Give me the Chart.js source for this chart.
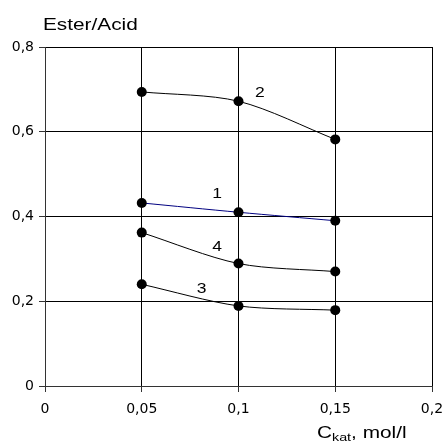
<!DOCTYPE html>
<html>
<head>
<meta charset="utf-8">
<script src="https://cdn.jsdelivr.net/npm/chart.js@4/dist/chart.umd.min.js"></script>
<style>
  html, body { margin: 0; padding: 0; background: #fff; }
  #wrap { width: 444px; height: 442px; }
</style>
</head>
<body>
<div id="wrap"><canvas id="esterChart" width="444" height="442"></canvas></div>
<script>
// catalyst concentration, mol/l
const cKat = [0.05, 0.1, 0.15];

// ester/acid ratio per curve
const curve1 = [0.432, 0.410, 0.390];
const curve2 = [0.694, 0.672, 0.582];
const curve3 = [0.240, 0.189, 0.179];
const curve4 = [0.362, 0.289, 0.270];

const xTicks = [0, 0.05, 0.1, 0.15, 0.2];
const yTicks = [0, 0.2, 0.4, 0.6, 0.8];

const curveNames = ['1', '2', '3', '4'];
// where each curve number sits (in data units)
const labelSpots = [[0.089, 0.453], [0.111, 0.692], [0.081, 0.229], [0.089, 0.328]];

const FONT = "'Liberation Sans', Arial, sans-serif";
const TICKFONT = "'DejaVu Sans', sans-serif";
const SX = 1.3;   // the original text is drawn wide

function pts(ys) {
    return cKat.map((x, i) => ({ x: x, y: ys[i] }));
}

function commaNum(v) {
    return String(Math.round(v * 1000) / 1000).replace('.', ',');
}

function series(label, ys, color) {
    return {
        label: label,
        data: pts(ys),
        borderColor: color,
        borderWidth: 1,
        backgroundColor: '#000',
        pointBackgroundColor: '#000',
        pointBorderColor: '#000',
        pointBorderWidth: 0,
        pointRadius: 5,
        tension: 0.3,
        fill: false
    };
}

function wideText(ctx, txt, x, y, sx) {
    ctx.save();
    ctx.translate(x, y);
    ctx.scale(sx, 1);
    ctx.fillText(txt, 0, 0);
    ctx.restore();
    return ctx.measureText(txt).width * sx;
}

// curve numbers and axis titles
const textPlugin = {
    id: 'textPlugin',
    afterDraw(chart) {
        const ctx = chart.ctx;
        const xs = chart.scales.x, ys = chart.scales.y;
        ctx.save();
        ctx.fillStyle = '#000';
        ctx.textAlign = 'center';
        ctx.textBaseline = 'middle';
        ctx.font = '14px ' + FONT;
        curveNames.forEach((n, i) => {
            wideText(ctx, n, xs.getPixelForValue(labelSpots[i][0]), ys.getPixelForValue(labelSpots[i][1]), 1.25);
        });

        ctx.textAlign = 'left';
        ctx.textBaseline = 'alphabetic';
        ctx.font = '16px ' + FONT;
        wideText(ctx, 'Ester/Acid', 43, 30, SX);

        // C_kat, mol/l
        let x = 317, base = 438;
        ctx.font = '16px ' + FONT;
        x += wideText(ctx, 'C', x, base, SX);
        ctx.font = '11px ' + FONT;
        x += wideText(ctx, 'kat', x, base + 3, SX);
        ctx.font = '16px ' + FONT;
        wideText(ctx, ', mol/l', x, base, SX);
        ctx.restore();
    }
};

new Chart(document.getElementById('esterChart'), {
    type: 'line',
    data: {
        datasets: [
            series('1', curve1, '#000080'),
            series('2', curve2, '#000'),
            series('3', curve3, '#000'),
            series('4', curve4, '#000')
        ]
    },
    options: {
        responsive: false,
        animation: false,
        layout: { padding: { top: 47, right: 12, left: 0, bottom: 0 } },
        plugins: {
            legend: { display: false },
            tooltip: { enabled: false }
        },
        scales: {
            x: {
                type: 'linear',
                min: 0,
                max: 0.2,
                afterBuildTicks: s => { s.ticks = xTicks.map(v => ({ value: v })); },
                afterFit: s => { s.height = 56; s.paddingLeft = 0; s.paddingRight = 0; },
                grid: { color: '#000', lineWidth: 1, tickLength: 6, tickColor: '#333' },
                border: { color: '#333', width: 1 },
                ticks: {
                    color: '#000',
                    padding: 9,
                    maxRotation: 0,
                    font: { family: TICKFONT, size: 14 },
                    callback: v => commaNum(v)
                }
            },
            y: {
                type: 'linear',
                min: 0,
                max: 0.8,
                afterBuildTicks: s => { s.ticks = yTicks.map(v => ({ value: v })); },
                afterFit: s => { s.width = 45; s.paddingTop = 0; s.paddingBottom = 0; },
                grid: { color: '#000', lineWidth: 1, tickLength: 6, tickColor: '#333' },
                border: { color: '#333', width: 1 },
                ticks: {
                    color: '#000',
                    padding: 5,
                    font: { family: TICKFONT, size: 14 },
                    callback: v => commaNum(v)
                }
            }
        }
    },
    plugins: [textPlugin]
});
</script>
</body>
</html>
